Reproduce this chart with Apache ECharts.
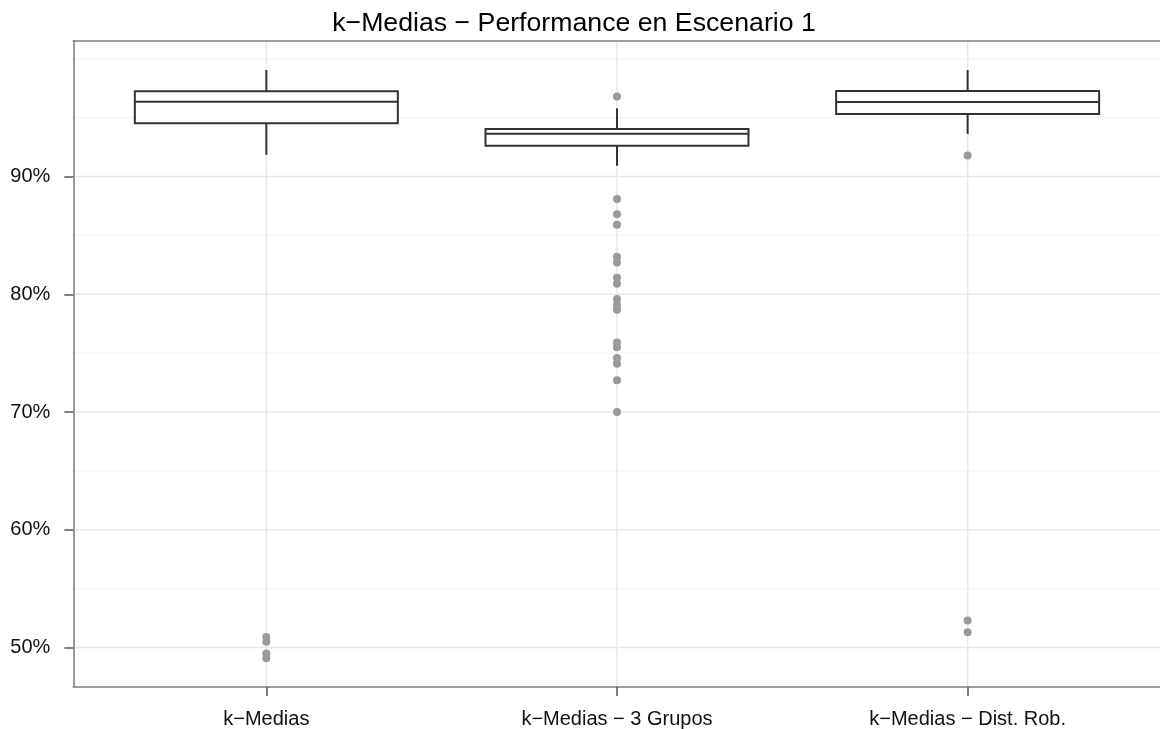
<!DOCTYPE html>
<html>
<head>
<meta charset="utf-8">
<script src="https://cdn.jsdelivr.net/npm/echarts@6/dist/echarts.min.js"></script>
<style>html,body{margin:0;padding:0;background:#fff}#chart{width:1160px;height:729px}</style>
</head>
<body>
<div id="chart"></div>
<script>
// ---- data ----
const categories = ['k\u2212Medias', 'k\u2212Medias \u2212 3 Grupos', 'k\u2212Medias \u2212 Dist. Rob.'];
const lowerWhisker = [91.85, 90.92, 93.63];
const q1 = [94.53, 92.61, 95.32];
const median = [96.36, 93.63, 96.34];
const q3 = [97.25, 94.05, 97.27];
const upperWhisker = [99.05, 95.8, 99.05];
const outliersKMedias = [50.9, 50.5, 49.5, 49.1];
const outliers3Grupos = [96.8, 88.1, 86.8, 85.9, 83.2, 82.7, 81.4, 80.9, 79.6, 79.1, 78.7, 75.9, 75.5, 74.6, 74.1, 72.7, 70.0];
const outliersDistRob = [91.8, 52.3, 51.3];
const yTicks = [50, 60, 70, 80, 90];
const yMinor = [55, 65, 75, 85, 95, 100];
const xTicks = [1, 2, 3];

// ---- build ----
const boxData = categories.map((c, i) => [i + 1, lowerWhisker[i], q1[i], median[i], q3[i], upperWhisker[i]]);
const outlierData = [];
[outliersKMedias, outliers3Grupos, outliersDistRob].forEach((arr, i) => arr.forEach(v => outlierData.push([i + 1, v])));

const FONT = "'Liberation Sans', Arial, Helvetica, sans-serif";
const BORDER = {show: true, lineStyle: {color: '#7f7f7f', width: 1.6}};
const X_MIN = 0.4495, X_MAX = 3.5486;
const chart = echarts.init(document.getElementById('chart'), null, {renderer: 'canvas'});

function hLine(color, width) {
  return function (params, api) {
    const cs = params.coordSys;
    const y = api.coord([1, api.value(0)])[1];
    return {type: 'line', shape: {x1: cs.x, y1: y, x2: cs.x + cs.width, y2: y},
      style: {stroke: color, lineWidth: width}, silent: true};
  };
}

chart.setOption({
  animation: false,
  backgroundColor: '#fff',
  title: {
    text: 'k\u2212Medias \u2212 Performance en Escenario 1',
    left: 574, top: 10, padding: 0, textAlign: 'center',
    textStyle: {fontFamily: FONT, fontSize: 26.7, fontWeight: 'normal', color: '#000'}
  },
  grid: {left: 73.3, right: -2, top: 40.7, bottom: 41, show: false},
  xAxis: [{
    type: 'value', min: X_MIN, max: X_MAX, position: 'bottom',
    axisLine: BORDER,
    axisTick: {show: true, customValues: xTicks, length: 9, lineStyle: {color: '#555', width: 1.5}},
    axisLabel: {show: true, customValues: xTicks, margin: 22, fontFamily: FONT, fontSize: 20, color: '#111',
      formatter: v => categories[Math.round(v) - 1]},
    splitLine: {show: false}
  }, {
    type: 'value', min: X_MIN, max: X_MAX, position: 'top',
    axisLine: BORDER, axisTick: {show: false}, axisLabel: {show: false}, splitLine: {show: false}
  }],
  yAxis: {
    type: 'value', min: 46.65, max: 101.54,
    axisLine: BORDER,
    axisTick: {show: true, customValues: yTicks, length: 9, lineStyle: {color: '#555', width: 1.5}},
    axisLabel: {show: true, customValues: yTicks, margin: 23, fontFamily: FONT, fontSize: 20, color: '#111',
      formatter: v => Math.round(v) + '%'},
    splitLine: {show: false}
  },
  series: [
    {
      type: 'custom', name: 'minorGrid', z: 0, silent: true, clip: true,
      data: yMinor.map(v => [v]),
      encode: {y: 0},
      renderItem: hLine('#f4f4f4', 1.2)
    },
    {
      type: 'custom', name: 'majorGrid', z: 0, silent: true, clip: true,
      data: yTicks.map(v => [v]),
      encode: {y: 0},
      renderItem: hLine('#e8e8e8', 1.5)
    },
    {
      type: 'custom', name: 'vGrid', z: 0, silent: true, clip: true,
      data: xTicks.map(v => [v]),
      encode: {x: 0},
      renderItem: function (params, api) {
        const cs = params.coordSys;
        const x = api.coord([api.value(0), 60])[0];
        return {type: 'line', shape: {x1: x, y1: cs.y, x2: x, y2: cs.y + cs.height},
          style: {stroke: '#e8e8e8', lineWidth: 1.5}, silent: true};
      }
    },
    {
      type: 'custom', name: 'box', z: 2,
      data: boxData,
      encode: {x: 0, y: [1, 2, 3, 4, 5]},
      renderItem: function (params, api) {
        const x = api.value(0);
        const lo = api.coord([x, api.value(1)]);
        const b1 = api.coord([x, api.value(2)]);
        const md = api.coord([x, api.value(3)]);
        const b3 = api.coord([x, api.value(4)]);
        const hi = api.coord([x, api.value(5)]);
        const half = api.size([0.75, 0])[0] / 2;
        const st = {stroke: '#333', lineWidth: 2, fill: null};
        return {type: 'group', children: [
          {type: 'line', shape: {x1: hi[0], y1: hi[1], x2: b3[0], y2: b3[1]}, style: st},
          {type: 'line', shape: {x1: lo[0], y1: lo[1], x2: b1[0], y2: b1[1]}, style: st},
          {type: 'rect', shape: {x: b3[0] - half, y: b3[1], width: 2 * half, height: b1[1] - b3[1]},
            style: {stroke: '#333', lineWidth: 2, fill: '#fff'}},
          {type: 'line', shape: {x1: md[0] - half, y1: md[1], x2: md[0] + half, y2: md[1]}, style: st}
        ]};
      }
    },
    {
      type: 'scatter', name: 'outliers', z: 3,
      data: outlierData,
      symbol: 'circle', symbolSize: 8,
      itemStyle: {color: '#9a9a9a', opacity: 1}
    }
  ]
});
</script>
</body>
</html>
